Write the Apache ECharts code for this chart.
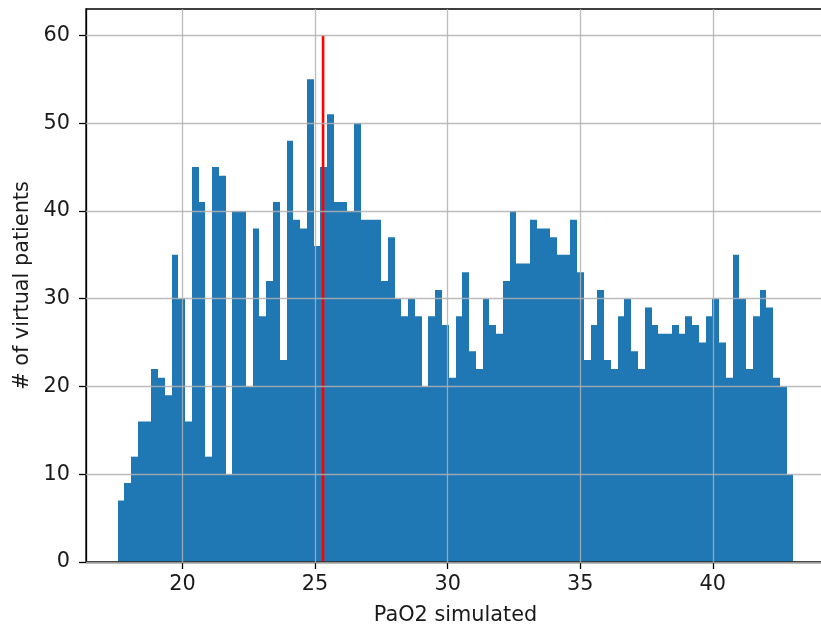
<!DOCTYPE html>
<html>
<head>
<meta charset="utf-8">
<script src="https://cdn.jsdelivr.net/npm/echarts@6/dist/echarts.min.js"></script>
<style>
html,body{margin:0;padding:0;background:#fff;}
#chart{width:821px;height:625px;}
</style>
</head>
<body>
<div id="chart"></div>
<script>
// histogram counts (100 bins)
const binCounts = [
  7, 9, 12, 16, 16, 22, 21, 19, 35, 30,
  16, 45, 41, 12, 45, 44, 10, 40, 40, 20,
  38, 28, 32, 41, 23, 48, 39, 38, 55, 36,
  45, 51, 41, 41, 40, 50, 39, 39, 39, 32,
  37, 30, 28, 30, 28, 20, 28, 31, 27, 21,
  28, 33, 24, 22, 30, 27, 26, 32, 40, 34,
  34, 39, 38, 38, 37, 35, 35, 39, 33, 23,
  27, 31, 23, 22, 28, 30, 24, 22, 29, 27,
  26, 26, 27, 26, 28, 27, 25, 28, 30, 25,
  21, 35, 30, 22, 28, 31, 29, 21, 20, 10
];
const binRange = [17.55, 43.04];
const xTicks = [20, 25, 30, 35, 40];
const yTicks = [0, 10, 20, 30, 40, 50, 60];
const refLineX = 25.30;
const refLineTop = 60;
const xRange = [16.36, 44.23];
const yRange = [0, 63];

const nBins = binCounts.length;
const binW = (binRange[1] - binRange[0]) / nBins;
const histData = binCounts.map((c, i) => [binRange[0] + i * binW, binRange[0] + (i + 1) * binW, c]);

const FONT = 'DejaVu Sans';
const FS = 20.8;
const TXT = '#1a1a1a';

const chart = echarts.init(document.getElementById('chart'), null, {renderer: 'canvas'});
chart.setOption({
  animation: false,
  backgroundColor: '#ffffff',
  grid: {left: 86, top: 9, width: 739, height: 553, containLabel: false, outerBoundsMode: 'none',
         show: true, borderColor: '#000', borderWidth: 1.3, backgroundColor: 'transparent', z: 5},
  xAxis: {
    type: 'value', min: xRange[0], max: xRange[1],
    name: 'PaO2 simulated', nameLocation: 'middle', nameGap: 43,
    nameTextStyle: {fontFamily: FONT, fontSize: FS, color: TXT},
    axisLine: {show: true, onZero: false, lineStyle: {color: '#000', width: 1.3}},
    axisTick: {show: true, length: 7, customValues: xTicks, lineStyle: {color: '#000', width: 1.3}},
    axisLabel: {customValues: xTicks, margin: 12, fontFamily: FONT, fontSize: FS, color: TXT},
    splitLine: {show: false}
  },
  yAxis: {
    type: 'value', min: yRange[0], max: yRange[1],
    name: '# of virtual patients', nameLocation: 'middle', nameGap: 48,
    nameTextStyle: {fontFamily: FONT, fontSize: FS, color: TXT},
    axisLine: {show: true, lineStyle: {color: '#000', width: 1.3}},
    axisTick: {show: true, length: 7, customValues: yTicks, lineStyle: {color: '#000', width: 1.3}},
    axisLabel: {customValues: yTicks, margin: 16, fontFamily: FONT, fontSize: FS, color: TXT},
    splitLine: {show: false}
  },
  series: [
    {
      type: 'custom', z: 2,
      encode: {x: [0, 1], y: 2},
      data: histData,
      renderItem: function (params, api) {
        const p0 = api.coord([api.value(0), api.value(2)]);
        const p1 = api.coord([api.value(1), 0]);
        const x0 = Math.round(p0[0]);
        const x1 = Math.round(p1[0]);
        return {
          type: 'rect',
          shape: {x: x0, y: p0[1], width: x1 - x0, height: p1[1] - p0[1]},
          style: {fill: '#1f77b4'}
        };
      }
    },
    {
      type: 'line', z: 3, data: [], silent: true,
      markLine: {
        silent: true, symbol: 'none', animation: false,
        label: {show: false},
        lineStyle: {color: '#b0b0b0', width: 1.3, type: 'solid', opacity: 0.85},
        data: xTicks.map(v => ({xAxis: v})).concat(yTicks.map(v => ({yAxis: v})))
      }
    },
    {
      type: 'line', z: 4, silent: true, symbol: 'none',
      data: [[refLineX, 0], [refLineX, refLineTop]],
      lineStyle: {color: '#ff0000', width: 2.6}
    }
  ]
});
</script>
</body>
</html>
